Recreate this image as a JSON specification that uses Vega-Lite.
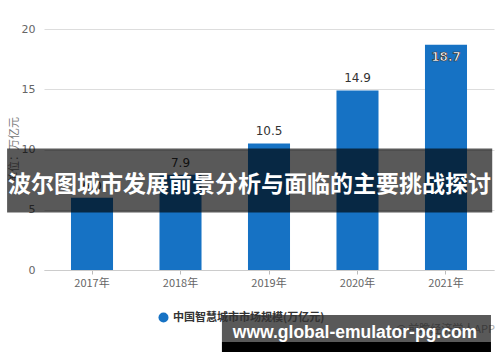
{
  "$schema": "https://vega.github.io/schema/vega-lite/v6.json",
  "width": 450,
  "height": 241,
  "autosize": {"type": "none"},
  "padding": {"left": 44, "top": 29, "right": 6, "bottom": 92},
  "background": "white",
  "config": {"view": {"stroke": null}, "font": "DejaVu Sans"},
  "datasets": {
    "market": [
      {"year": "2017年", "value": 6.0, "series": "中国智慧城市市场规模(万亿元)"},
      {"year": "2018年", "value": 7.9, "series": "中国智慧城市市场规模(万亿元)"},
      {"year": "2019年", "value": 10.5, "series": "中国智慧城市市场规模(万亿元)"},
      {"year": "2020年", "value": 14.9, "series": "中国智慧城市市场规模(万亿元)"},
      {"year": "2021年", "value": 18.7, "series": "中国智慧城市市场规模(万亿元)"}
    ],
    "overlay": [
      {"headline": "波尔图城市发展前景分析与面临的主要挑战探讨", "site": "www.global-emulator-pg.com", "credit": "@ 前瞻经济学人APP"}
    ]
  },
  "layer": [
    {
      "data": {"name": "market"},
      "mark": {"type": "bar", "color": "#1672c4"},
      "encoding": {
        "x": {
          "field": "year", "type": "nominal", "sort": null,
          "scale": {"paddingInner": 0.525, "paddingOuter": 0.305},
          "axis": {"title": null, "labelAngle": 0, "labelFontSize": 11, "labelColor": "#666", "labelFont": "Noto Sans CJK SC", "tickColor": "#bbb", "tickSize": 4, "domainColor": "#ccc", "labelPadding": 3}
        },
        "y": {
          "field": "value", "type": "quantitative", "scale": {"domain": [0, 20]},
          "axis": {"title": "单位：万亿元", "values": [0, 5, 10, 15, 20], "grid": true, "gridColor": "#ddd", "ticks": false, "domain": false, "labelPadding": 9, "labelColor": "#666", "labelFontSize": 11, "titleFontSize": 11, "titleColor": "#777", "titleFontWeight": "normal", "titlePadding": 2, "titleFont": "Noto Sans CJK SC"}
        },
        "color": {
          "field": "series", "type": "nominal", "scale": {"range": ["#1672c4"]},
          "legend": {"title": null, "orient": "none", "legendX": 114, "legendY": 283, "symbolType": "circle", "symbolSize": 100, "symbolStrokeWidth": 0, "labelFontSize": 11, "labelFontWeight": "bold", "labelColor": "#333", "labelFont": "Noto Sans CJK SC", "labelLimit": 300}
        }
      }
    },
    {
      "data": {"name": "market"},
      "transform": [{"filter": "datum.value < 18"}],
      "mark": {"type": "text", "baseline": "middle", "dy": -12, "fontSize": 12, "color": "#333"},
      "encoding": {
        "x": {"field": "year", "type": "nominal", "sort": null},
        "y": {"field": "value", "type": "quantitative"},
        "text": {"field": "value", "type": "quantitative", "format": ".1f"}
      }
    },
    {
      "data": {"name": "market"},
      "transform": [{"filter": "datum.value >= 18"}],
      "mark": {"type": "text", "baseline": "middle", "dy": 12, "fontSize": 12, "fontWeight": "bold", "fill": "white", "stroke": "#333", "strokeWidth": 0.7},
      "encoding": {
        "x": {"field": "year", "type": "nominal", "sort": null},
        "y": {"field": "value", "type": "quantitative"},
        "text": {"field": "value", "type": "quantitative", "format": ".1f"}
      }
    },
    {
      "data": {"name": "overlay"},
      "mark": {"type": "rect", "color": "black", "opacity": 0.65},
      "encoding": {
        "x": {"datum": "2017年", "type": "nominal", "bandPosition": -1.52},
        "x2": {"datum": "2021年", "bandPosition": 1.6},
        "y": {"datum": 10.08, "type": "quantitative"},
        "y2": {"datum": 4.78}
      }
    },
    {
      "data": {"name": "overlay"},
      "mark": {"type": "text", "align": "center", "baseline": "middle", "fontSize": 23, "fontWeight": "bold", "font": "Noto Sans CJK SC", "color": "white"},
      "encoding": {
        "x": {"datum": "2019年", "type": "nominal", "bandPosition": 0.036},
        "y": {"datum": 7.05, "type": "quantitative"},
        "text": {"field": "headline"}
      }
    },
    {
      "data": {"name": "overlay"},
      "mark": {"type": "text", "align": "center", "baseline": "middle", "fontSize": 11, "font": "Noto Sans CJK SC", "color": "#aaa"},
      "encoding": {
        "x": {"datum": "2021年", "type": "nominal", "bandPosition": 0.48},
        "y": {"datum": -4.98, "type": "quantitative"},
        "text": {"field": "credit"}
      }
    },
    {
      "data": {"name": "overlay"},
      "mark": {"type": "rect", "color": "black", "opacity": 0.65},
      "encoding": {
        "x": {"datum": "2019年", "type": "nominal", "bandPosition": -0.62},
        "x2": {"datum": "2021年", "bandPosition": 1.57},
        "y": {"datum": -3.73, "type": "quantitative"},
        "y2": {"datum": -5.98}
      }
    },
    {
      "data": {"name": "overlay"},
      "mark": {"type": "rect", "color": "black", "opacity": 1},
      "encoding": {
        "x": {"datum": "2019年", "type": "nominal", "bandPosition": -0.62},
        "x2": {"datum": "2021年", "bandPosition": 1.57},
        "y": {"datum": -5.98, "type": "quantitative"},
        "y2": {"datum": -6.8}
      }
    },
    {
      "data": {"name": "overlay"},
      "mark": {"type": "text", "align": "center", "baseline": "alphabetic", "fontSize": 17.5, "fontWeight": "bold", "font": "Liberation Sans", "color": "white"},
      "encoding": {
        "x": {"datum": "2020年", "type": "nominal", "bandPosition": 0.44},
        "y": {"datum": -5.64, "type": "quantitative"},
        "text": {"field": "site"}
      }
    }
  ]
}
